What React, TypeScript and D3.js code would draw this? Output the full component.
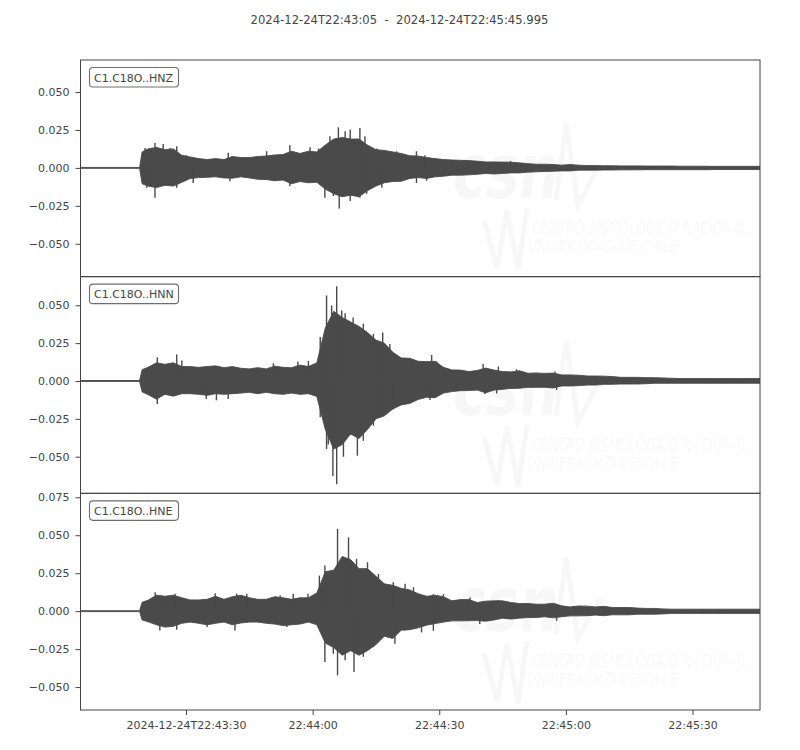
import { useEffect, useRef } from "react";
import * as d3 from "d3";

const title = "2024-12-24T22:43:05  -  2024-12-24T22:45:45.995";
const channels = ["C1.C18O..HNZ", "C1.C18O..HNN", "C1.C18O..HNE"];

// seconds after 2024-12-24T22:43:05, envelope sample times
const envTimes = [
  0, 14.0, 14.6, 16, 18, 20, 22, 24, 26, 28, 30, 32, 34, 36, 38, 40, 42, 44,
  46, 48, 50, 52, 54, 56, 58, 60, 62, 64, 66, 68, 70, 72, 74, 76, 78, 80, 82,
  84, 86, 88, 90, 92, 94, 96, 98, 100, 102, 104, 106, 108, 110, 112, 114, 116,
  118, 120, 122, 124, 126, 128, 130, 132, 134, 136, 138, 140, 142, 144, 146,
  148, 150, 152, 154, 156, 158, 160, 161,
];

const hnzUpper = [
  0.0003, 0.0003, 0.0105, 0.0125, 0.0135, 0.012, 0.0125, 0.0083, 0.0072,
  0.0061, 0.0055, 0.0061, 0.0055, 0.0075, 0.0068, 0.0068, 0.0075, 0.0078,
  0.0085, 0.0088, 0.011, 0.0095, 0.011, 0.0105, 0.015, 0.019, 0.02,
  0.019, 0.019, 0.015, 0.012, 0.0115, 0.0105, 0.0095, 0.008, 0.0078,
  0.0068, 0.0061, 0.0055, 0.0052, 0.005, 0.0048, 0.0044, 0.0039, 0.0039,
  0.0038, 0.0037, 0.0033, 0.0028, 0.0024, 0.0024, 0.0022, 0.0018, 0.0022,
  0.0018, 0.0015, 0.0015, 0.0014, 0.0014, 0.0013, 0.0013, 0.0013, 0.0012,
  0.0012, 0.0012, 0.0012, 0.0011, 0.0011, 0.0011, 0.0011, 0.001, 0.001,
  0.001, 0.001, 0.001, 0.001, 0.001,
];
const hnzLower = [
  -0.0003, -0.0003, -0.0105, -0.012, -0.013, -0.0115, -0.012, -0.0095,
  -0.007, -0.0064, -0.0062, -0.0059, -0.0066, -0.0068, -0.0059, -0.0066,
  -0.0075, -0.0077, -0.0085, -0.008, -0.0105, -0.009, -0.0098, -0.0095,
  -0.014, -0.017, -0.019, -0.018, -0.019, -0.015, -0.012, -0.0098,
  -0.009, -0.0088, -0.007, -0.0064, -0.007, -0.0059, -0.0055, -0.0048,
  -0.0048, -0.0046, -0.0042, -0.0037, -0.004, -0.0037, -0.0033, -0.0033,
  -0.0028, -0.0026, -0.0024, -0.0022, -0.002, -0.002, -0.0015, -0.0015,
  -0.0015, -0.0014, -0.0014, -0.0013, -0.0013, -0.0013, -0.0012, -0.0012,
  -0.0012, -0.0012, -0.0012, -0.0012, -0.0012, -0.0012, -0.0011, -0.0011,
  -0.0011, -0.0011, -0.0011, -0.0011, -0.0011,
];

const hnnUpper = [
  0.0003, 0.0003, 0.0075, 0.009, 0.012, 0.011, 0.012, 0.0095, 0.0095,
  0.009, 0.0095, 0.01, 0.0088, 0.0095, 0.0084, 0.008, 0.0088, 0.008,
  0.0098, 0.009, 0.0088, 0.0105, 0.0095, 0.012, 0.035, 0.046, 0.042, 0.039,
  0.036, 0.032, 0.027, 0.025, 0.019, 0.0152, 0.015, 0.013, 0.0128, 0.013,
  0.009, 0.0073, 0.0072, 0.0062, 0.007, 0.0085, 0.0072, 0.0062, 0.006,
  0.0068, 0.0051, 0.0053, 0.005, 0.0052, 0.004, 0.004, 0.0038, 0.0033,
  0.0033, 0.0032, 0.0029, 0.0024, 0.0024, 0.0024, 0.0022, 0.0022, 0.002,
  0.0018, 0.0016, 0.0016, 0.0016, 0.0016, 0.0016, 0.0016, 0.0016, 0.0016,
  0.0016, 0.0016, 0.0016,
];
const hnnLower = [
  -0.0003, -0.0003, -0.0072, -0.009, -0.012, -0.0088, -0.01, -0.0084,
  -0.0084, -0.0088, -0.0095, -0.0084, -0.0088, -0.0084, -0.008, -0.0075,
  -0.0084, -0.0075, -0.0084, -0.0088, -0.008, -0.0088, -0.0084, -0.0102,
  -0.032, -0.045, -0.042, -0.035, -0.038, -0.032, -0.025, -0.023,
  -0.0185, -0.0158, -0.0148, -0.0122, -0.0108, -0.011, -0.008, -0.007,
  -0.0064, -0.0063, -0.006, -0.0078, -0.006, -0.0055, -0.0049, -0.0048,
  -0.0042, -0.0042, -0.0042, -0.0046, -0.0033, -0.0033, -0.0031, -0.0027,
  -0.0027, -0.0022, -0.0022, -0.002, -0.002, -0.002, -0.0018, -0.0015,
  -0.0015, -0.0015, -0.0015, -0.0015, -0.0015, -0.0015, -0.0015, -0.0015,
  -0.0015, -0.0015, -0.0015, -0.0015, -0.0015,
];

const hneUpper = [
  0.0003, 0.0003, 0.0058, 0.0072, 0.0105, 0.0098, 0.0105, 0.0088, 0.0074,
  0.0074, 0.0078, 0.0098, 0.0078, 0.0095, 0.0105, 0.0088, 0.0078, 0.0078,
  0.0095, 0.0088, 0.0078, 0.0088, 0.0088, 0.012, 0.026, 0.027, 0.036, 0.034,
  0.028, 0.028, 0.023, 0.018, 0.017, 0.015, 0.014, 0.0115, 0.0098, 0.0105,
  0.0095, 0.0068, 0.0076, 0.0076, 0.0057, 0.0066, 0.0068, 0.0068, 0.0057,
  0.005, 0.005, 0.0046, 0.0046, 0.0052, 0.0035, 0.0028, 0.0034, 0.0033,
  0.0028, 0.0032, 0.0024, 0.0024, 0.0024, 0.002, 0.0018, 0.0018, 0.0015,
  0.0013, 0.0013, 0.0013, 0.0013, 0.0013, 0.0013, 0.0013, 0.0013, 0.0013,
  0.0013, 0.0013, 0.0013,
];
const hneLower = [
  -0.0003, -0.0003, -0.0058, -0.007, -0.009, -0.0105, -0.01, -0.008,
  -0.0072, -0.008, -0.009, -0.008, -0.0072, -0.009, -0.0078, -0.0072,
  -0.0072, -0.008, -0.0085, -0.0095, -0.009, -0.0085, -0.0072, -0.009,
  -0.021, -0.024, -0.029, -0.026, -0.029, -0.026, -0.022, -0.0165,
  -0.018, -0.0125, -0.0122, -0.011, -0.0092, -0.0082, -0.0072, -0.0064,
  -0.0064, -0.0063, -0.0062, -0.0066, -0.0058, -0.0046, -0.0052, -0.0046,
  -0.0042, -0.0042, -0.0037, -0.0044, -0.0037, -0.0031, -0.0031, -0.003,
  -0.0026, -0.003, -0.0024, -0.0024, -0.0024, -0.002, -0.002, -0.002,
  -0.0018, -0.0015, -0.0015, -0.0015, -0.0015, -0.0015, -0.0015, -0.0015,
  -0.0015, -0.0015, -0.0015, -0.0015, -0.0015,
];

// isolated peaks that stick out of the envelope (time s, value)
const hnzSpikeT = [
  15.3, 17.65, 19.6, 21.2, 22.8, 25.1, 35.0, 44.1, 49.6, 54.4, 56.4, 59.1,
  61.1, 62.7, 63.9, 66.2, 67.4, 70.2, 74.9, 79.6, 81.6, 101.9, 15.7, 17.65,
  21.2, 22.8, 26.7, 35.4, 49.6, 57.9, 59.9, 61.3, 63.9, 66.2, 67.8, 71.4,
  79.6, 82.0,
];
const hnzSpikeV = [
  0.0131, 0.0164, 0.0158, 0.0131, 0.0142, 0.0083, 0.0099, 0.011, 0.0149,
  0.0136, 0.0127, 0.0208, 0.0267, 0.0241, 0.0252, 0.0263, 0.0208, 0.0127,
  0.011, 0.011, 0.0083, 0.0046, -0.0131, -0.0197, -0.012, -0.0131, -0.0099,
  -0.0088, -0.012, -0.0197, -0.0186, -0.0267, -0.0219, -0.0197, -0.0171,
  -0.0131, -0.0099, -0.0085,
];
const hnnSpikeT = [
  18.2, 22.8, 24.0, 45.7, 51.5, 54.0, 56.8, 58.3, 59.5, 60.7, 61.9, 62.7,
  64.6, 67.0, 69.4, 71.6, 73.3, 83.2, 84.4, 95.4, 99.0, 103.3, 112.4, 18.2,
  29.8, 32.2, 35.0, 56.8, 58.3, 58.7, 59.8, 60.7, 62.3, 65.6, 67.0, 69.4,
  71.0, 74.1, 77.3, 82.8, 95.8, 98.6, 112.8,
];
const hnnSpikeV = [
  0.0157, 0.0175, 0.0135, 0.0117, 0.0128, 0.0132, 0.029, 0.0565, 0.0499,
  0.0625, 0.0466, 0.0448, 0.042, 0.0378, 0.031, 0.032, 0.0245, 0.0172,
  0.0128, 0.0113, 0.0095, 0.0077, 0.0062, -0.0152, -0.0119, -0.0128,
  -0.0119, -0.024, -0.045, -0.042, -0.0627, -0.0682, -0.05, -0.0494,
  -0.0395, -0.0296, -0.024, -0.0186, -0.0152, -0.0126, -0.0086, -0.0082,
  -0.006,
];
const hneSpikeT = [
  17.7, 19.3, 22.4, 31.9, 37.0, 39.4, 47.3, 50.4, 53.9, 56.6, 57.9, 60.9,
  62.3, 63.5, 65.4, 68.0, 70.6, 74.1, 76.9, 78.9, 83.6, 86.0, 92.3, 99.0,
  112.4, 18.8, 22.8, 30.0, 36.6, 48.9, 57.9, 59.9, 60.9, 62.7, 64.8, 67.0,
  69.4, 74.5, 76.9, 80.8, 83.6, 94.6, 112.8,
];
const hneSpikeV = [
  0.0125, 0.0103, 0.0114, 0.0118, 0.0114, 0.0114, 0.0103, 0.0114, 0.0114,
  0.0234, 0.03, 0.0541, 0.0355, 0.0486, 0.0344, 0.0322, 0.0245, 0.019,
  0.018, 0.0158, 0.0112, 0.0112, 0.009, 0.0072, 0.005, -0.0127, -0.0123,
  -0.0105, -0.0127, -0.0105, -0.0335, -0.028, -0.0423, -0.0324, -0.04,
  -0.03, -0.0237, -0.0215, -0.0127, -0.014, -0.0129, -0.0085, -0.0064,
];

const hnzDomain = [-0.0717, 0.0711];
const hnnDomain = [-0.0742, 0.0689];
const hneDomain = [-0.0651, 0.0776];
const yTicksZN = [-0.05, -0.025, 0, 0.025, 0.05];
const yTicksE = [-0.05, -0.025, 0, 0.025, 0.05, 0.075];

const xTickTimes = [25, 55, 85, 115, 145];
const xTickLabels = [
  "2024-12-24T22:43:30",
  "22:44:00",
  "22:44:30",
  "22:45:00",
  "22:45:30",
];

export default function App() {
  const svgRef = useRef<SVGSVGElement>(null);

  useEffect(() => {
    const svgEl = svgRef.current;
    if (!svgEl) return;
    const width = 800;
    const height = 750;
    const left = 80.5;
    const right = 760;
    const top = 60;
    const bottom = 710;
    const panelH = (bottom - top) / 3;
    const ink = "#444444";
    const trace = "#4a4a4a";
    const font = "DejaVu Sans, sans-serif";

    const svg = d3.select(svgEl);
    svg.selectAll("*").remove();
    svg.attr("viewBox", `0 0 ${width} ${height}`);

    svg
      .append("text")
      .attr("x", 399.5)
      .attr("y", 24)
      .attr("text-anchor", "middle")
      .attr("font-family", font)
      .attr("font-size", 11.6)
      .attr("fill", ink)
      .attr("xml:space", "preserve")
      .style("white-space", "pre")
      .text(title);

    const x = d3.scaleLinear().domain([0, 160.995]).range([left, right]);

    const panels = [
      { upper: hnzUpper, lower: hnzLower, st: hnzSpikeT, sv: hnzSpikeV, domain: hnzDomain, ticks: yTicksZN },
      { upper: hnnUpper, lower: hnnLower, st: hnnSpikeT, sv: hnnSpikeV, domain: hnnDomain, ticks: yTicksZN },
      { upper: hneUpper, lower: hneLower, st: hneSpikeT, sv: hneSpikeV, domain: hneDomain, ticks: yTicksE },
    ];

    const fmt = (v: number) => d3.format(".3f")(v).replace("-", "\u2212");

    panels.forEach((p, i) => {
      const y0 = top + i * panelH;
      const y = d3
        .scaleLinear()
        .domain(p.domain)
        .range([y0 + panelH, y0]);

      const clipId = `clip-${i}`;
      svg
        .append("clipPath")
        .attr("id", clipId)
        .append("rect")
        .attr("x", left)
        .attr("y", y0)
        .attr("width", right - left)
        .attr("height", panelH);

      // faint CSN watermark (narrow lettering via horizontal scale)
      const wm = svg
        .append("g")
        .attr("transform", `translate(0,${y0})`)
        .attr("fill", "#000")
        .attr("stroke", "none");
      wm.append("text")
        .attr("transform", "translate(453,138) scale(0.74,1)")
        .attr("fill-opacity", 0.03)
        .attr("font-family", font)
        .attr("font-weight", "bold")
        .attr("font-style", "italic")
        .attr("font-size", 76)
        .attr("textLength", 143)
        .attr("lengthAdjust", "spacingAndGlyphs")
        .text("csn");
      wm.append("path")
        .attr("d", "M556,140 L566,64 L578,145 L598,108 L604,108")
        .attr("fill", "none")
        .attr("stroke", "#000")
        .attr("stroke-opacity", 0.03)
        .attr("stroke-width", 5);
      wm.append("path")
        .attr("d", "M484,160 L497,208 L507,150 L518,210 L527,148")
        .attr("fill", "none")
        .attr("stroke", "#000")
        .attr("stroke-opacity", 0.03)
        .attr("stroke-width", 5);
      wm.append("text")
        .attr("transform", "translate(532,174) scale(0.68,1)")
        .attr("fill-opacity", 0.04)
        .attr("font-family", font)
        .attr("font-style", "italic")
        .attr("font-size", 17)
        .attr("textLength", 318)
        .attr("lengthAdjust", "spacingAndGlyphs")
        .text("CENTRO SISMOLÓGICO NACIONAL");
      wm.append("text")
        .attr("transform", "translate(528,192) scale(0.7,1)")
        .attr("fill-opacity", 0.04)
        .attr("font-family", font)
        .attr("font-style", "italic")
        .attr("font-size", 15)
        .attr("textLength", 214)
        .attr("lengthAdjust", "spacingAndGlyphs")
        .text("UNIVERSIDAD DE CHILE");

      const g = svg.append("g").attr("clip-path", `url(#${clipId})`);

      const area = d3
        .area<number>()
        .x((_, k) => x(envTimes[k]))
        .y0((_, k) => y(p.lower[k]))
        .y1((d) => y(d));

      g.append("path")
        .datum(p.upper)
        .attr("d", area)
        .attr("fill", trace)
        .attr("stroke", trace)
        .attr("stroke-width", 0.9)
        .attr("stroke-linejoin", "round");

      g.selectAll(`.spike-${i}`)
        .data(p.st)
        .join("line")
        .attr("class", `spike-${i}`)
        .attr("x1", (d) => x(d))
        .attr("x2", (d) => x(d))
        .attr("y1", y(0))
        .attr("y2", (_, k) => y(p.sv[k]))
        .attr("stroke", trace)
        .attr("stroke-width", 1.4);

      svg
        .append("rect")
        .attr("x", left)
        .attr("y", y0)
        .attr("width", right - left)
        .attr("height", panelH)
        .attr("fill", "none")
        .attr("stroke", ink)
        .attr("stroke-width", 1);

      // channel label
      svg
        .append("rect")
        .attr("x", 89.5)
        .attr("y", y0 + 7.5)
        .attr("width", 89)
        .attr("height", 19.5)
        .attr("rx", 3.5)
        .attr("fill", "white")
        .attr("stroke", "#6e6e6e")
        .attr("stroke-width", 1.1);
      svg
        .append("text")
        .attr("x", 94)
        .attr("y", y0 + 21.5)
        .attr("font-family", font)
        .attr("font-size", 11)
        .attr("fill", ink)
        .text(channels[i]);

      const yAxis = svg
        .append("g")
        .attr("transform", `translate(${left},0)`)
        .call(
          d3
            .axisLeft(y)
            .tickValues(p.ticks)
            .tickFormat((v) => fmt(+v))
            .tickSizeInner(5)
            .tickSizeOuter(0)
            .tickPadding(6)
        );
      yAxis.select(".domain").remove();
      yAxis.selectAll("line").attr("stroke", ink);
      yAxis
        .selectAll("text")
        .attr("fill", ink)
        .attr("font-family", font)
        .attr("font-size", 11);
    });

    const xAxis = svg
      .append("g")
      .attr("transform", `translate(0,${bottom})`)
      .call(
        d3
          .axisBottom(x)
          .tickValues(xTickTimes)
          .tickFormat((_, k) => xTickLabels[k])
          .tickSizeInner(5)
          .tickSizeOuter(0)
          .tickPadding(6)
      );
    xAxis.select(".domain").remove();
    xAxis.selectAll("line").attr("stroke", ink);
    xAxis
      .selectAll("text")
      .attr("fill", ink)
      .attr("font-family", font)
      .attr("font-size", 11);
  }, []);

  return (
    <svg
      ref={svgRef}
      width={800}
      height={750}
      style={{ position: "absolute", left: 0, top: 0, display: "block", background: "white" }}
    />
  );
}
